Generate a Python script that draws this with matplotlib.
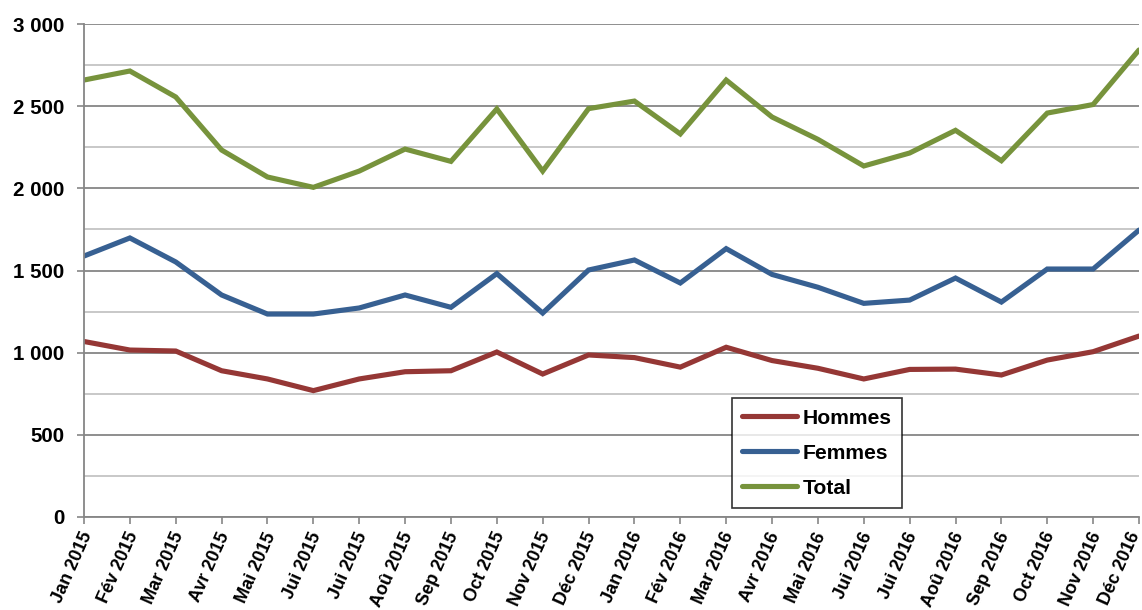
import numpy as np
from matplotlib import pyplot as plt
from matplotlib.ticker import MultipleLocator, FuncFormatter
from matplotlib.transforms import ScaledTranslation

plt.rcParams['font.family'] = ['Liberation Sans', 'DejaVu Sans']
plt.rcParams['font.weight'] = 'bold'

# monthly counts, jan 2015 -> dec 2016
months = ['Jan 2015', 'Fév 2015', 'Mar 2015', 'Avr 2015', 'Mai 2015', 'Jui 2015',
          'Jui 2015', 'Aoû 2015', 'Sep 2015', 'Oct 2015', 'Nov 2015', 'Déc 2015',
          'Jan 2016', 'Fév 2016', 'Mar 2016', 'Avr 2016', 'Mai 2016', 'Jui 2016',
          'Jui 2016', 'Aoû 2016', 'Sep 2016', 'Oct 2016', 'Nov 2016', 'Déc 2016']

hommes = [1068, 1016, 1010, 890, 840, 769, 840, 884, 890, 1004, 870, 986,
          970, 912, 1033, 952, 905, 840, 898, 900, 864, 955, 1006, 1101]
femmes = [1588, 1698, 1552, 1351, 1235, 1235, 1272, 1351, 1276, 1481, 1241, 1503,
          1564, 1424, 1633, 1476, 1398, 1300, 1320, 1454, 1308, 1509, 1509, 1746]
total = [2659, 2714, 2556, 2233, 2069, 2006, 2105, 2239, 2164, 2483, 2105, 2485,
         2531, 2331, 2659, 2434, 2298, 2136, 2215, 2353, 2168, 2458, 2510, 2842]

series = [('Hommes', hommes, '#953735'),
          ('Femmes', femmes, '#376092'),
          ('Total', total, '#77933C')]

fig = plt.figure(figsize=(11.42, 6.10), dpi=100)
ax = fig.add_axes([84 / 1142, 1 - 517 / 610, (1139 - 84) / 1142, (517 - 24) / 610])

x = np.arange(len(months))
for name, vals, col in series:
    ax.plot(x, vals, color=col, lw=3.7, label=name,
            solid_capstyle='round', solid_joinstyle='miter')

ax.set_xlim(0, len(months) - 1)
ax.set_ylim(0, 3000)
ax.yaxis.set_major_locator(MultipleLocator(500))
ax.yaxis.set_minor_locator(MultipleLocator(250))
ax.yaxis.set_major_formatter(FuncFormatter(lambda v, p: '{:,.0f}'.format(v).replace(',', ' ')))
ax.grid(True, which='major', axis='y', color='#868686', lw=1.3)
ax.grid(True, which='minor', axis='y', color='#c4c4c4', lw=1.3)
ax.set_axisbelow(True)

ax.set_xticks(x)
ax.set_xticklabels(months, rotation=66, ha='right', rotation_mode='anchor',
                   fontsize=13, fontweight='bold')
ax.tick_params(axis='x', length=5, width=1.2, color='#868686', pad=4)
ax.tick_params(axis='y', which='major', length=5, width=1.2, color='#868686',
               labelsize=14.8, pad=9)
ax.tick_params(axis='y', which='minor', length=0)

# nudge the rotated month labels left, the last one a bit more so it stays inside
labels = ax.get_xticklabels()
for i, lbl in enumerate(labels):
    dx = -8 if i == len(labels) - 1 else -3
    lbl.set_transform(lbl.get_transform() + ScaledTranslation(dx / 72, 0, fig.dpi_scale_trans))

for s in ['top', 'right']:
    ax.spines[s].set_visible(False)
for s in ['left', 'bottom']:
    ax.spines[s].set_color('#868686')
    ax.spines[s].set_linewidth(1.3)

leg = ax.legend(loc='upper left', bbox_to_anchor=(0.614, 0.2414),
                fontsize=15.2, frameon=True, fancybox=False,
                edgecolor='black', handlelength=2.6, handletextpad=0.24,
                borderaxespad=0, labelspacing=0.76, borderpad=0.5)
leg.get_frame().set_linewidth(1.2)
for t in leg.get_texts():
    t.set_fontweight('bold')
for h in leg.get_lines():
    h.set_solid_capstyle('round')

plt.savefig('out.png', dpi=100)
